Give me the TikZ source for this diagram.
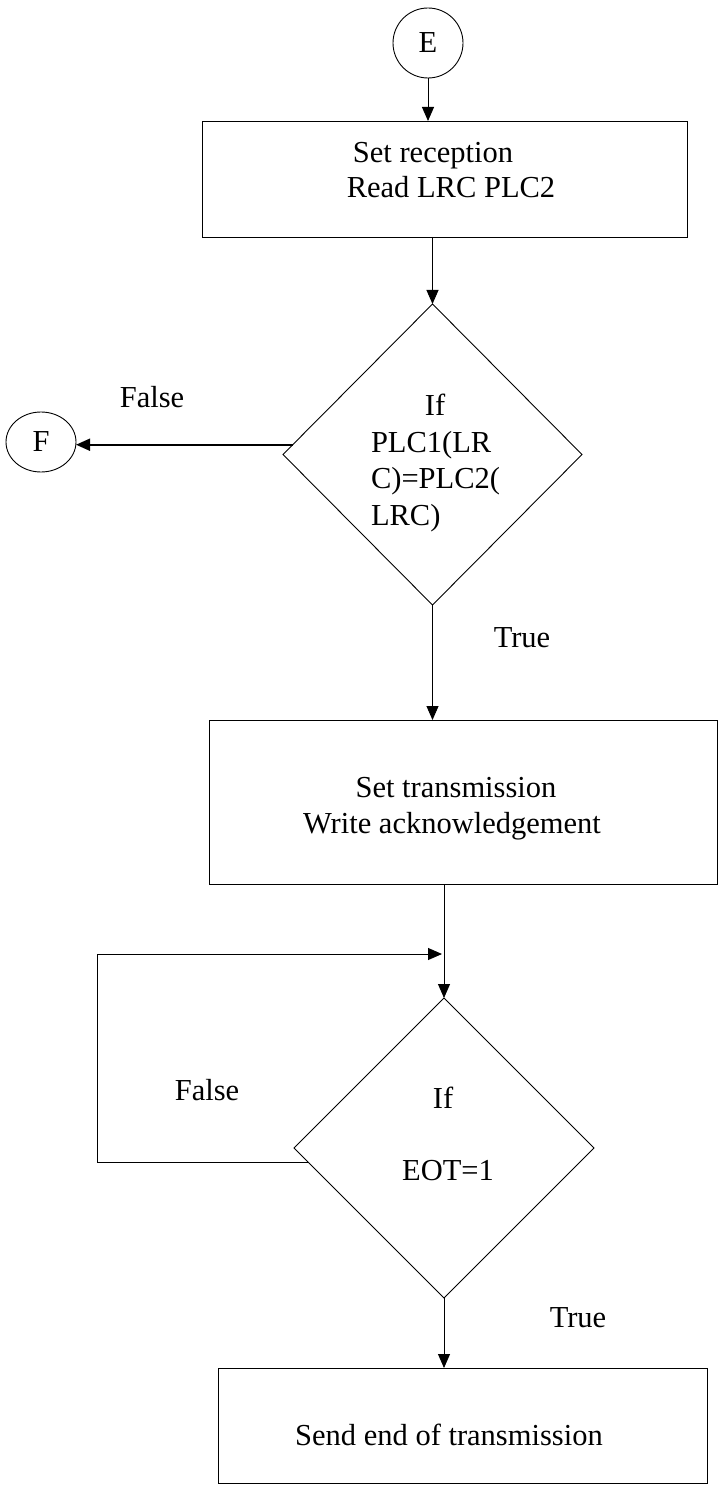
\documentclass[tikz,border=0pt]{standalone}
\usepackage{fontspec}
\setmainfont{Liberation Serif}
\usetikzlibrary{shapes.geometric,arrows.meta}
\begin{document}
\begin{tikzpicture}[x=1pt,y=-1pt,
  every node/.style={font=\fontsize{30.5}{36}\selectfont, inner sep=0pt, outer sep=0pt},
  procbox/.style={draw, line width=0.9pt, rectangle},
  decision/.style={draw, line width=0.9pt, diamond},
  connector/.style={draw, line width=0.9pt, circle, minimum size=70pt},
  flow/.style={line width=0.9pt, -{Triangle[length=14pt,width=12pt]}},
  boldflow/.style={line width=1.8pt, -{Triangle[length=14pt,width=12pt]}},
  txt/.style={anchor=base},
  txtleft/.style={anchor=base west}]

\useasboundingbox (0,0) rectangle (719,1495);

% shapes
\node[connector] (E) at (428,43) {E};
\node[procbox, minimum width=485pt, minimum height=116pt] (box1) at (444.5,179) {};
\node[decision, minimum width=299pt, minimum height=301pt] (d1) at (432.5,454.5) {};
\node[connector, ellipse, minimum width=70pt, minimum height=60pt] (F) at (41,442) {F};
\node[procbox, minimum width=508pt, minimum height=164pt] (box2) at (463,802) {};
\node[decision, minimum width=300pt, minimum height=300pt] (d2) at (444,1148) {};
\node[procbox, minimum width=489pt, minimum height=115pt] (box3) at (462.5,1425.5) {};

% texts
\node[txt] (t1a) at (433,163) {Set reception};
\node[txt] (t1b) at (451,198) {Read LRC PLC2};
\node[txt] (t2a) at (435,415) {If};
\node[txtleft] (t2b) at (371,452) {PLC1(LR};
\node[txtleft] (t2c) at (371,488) {C)=PLC2(};
\node[txtleft] (t2d) at (371,525) {LRC)};
\node[txt] (f1) at (152,407) {False};
\node[txt] (tr1) at (522,647) {True};
\node[txt] (t3a) at (456,797) {Set transmission};
\node[txt] (t3b) at (452,833) {Write acknowledgement};
\node[txt] (f2) at (207,1100) {False};
\node[txt] (t4a) at (443,1108) {If};
\node[txt] (t4b) at (448,1180) {EOT=1};
\node[txt] (tr2) at (578,1327) {True};
\node[txt] (t5) at (449,1445) {Send end of transmission};

% loop corner and join point
\coordinate (loopTL) at (97,954);
\coordinate (join) at (442,954);

% connectors
\draw[flow] (E.south) -- (E.south |- box1.north);
\draw[flow] (d1.north |- box1.south) -- (d1.north);
\draw[boldflow] (d1.176) -- (d1.176 -| F.east);
\draw[flow] (d1.south) -- (d1.south |- box2.north);
\draw[flow] (d2.north |- box2.south) -- (d2.north);
\draw[flow] (d2.186) -| (loopTL) -- (join);
\draw[flow] (d2.south) -- (d2.south |- box3.north);
\end{tikzpicture}
\end{document}
